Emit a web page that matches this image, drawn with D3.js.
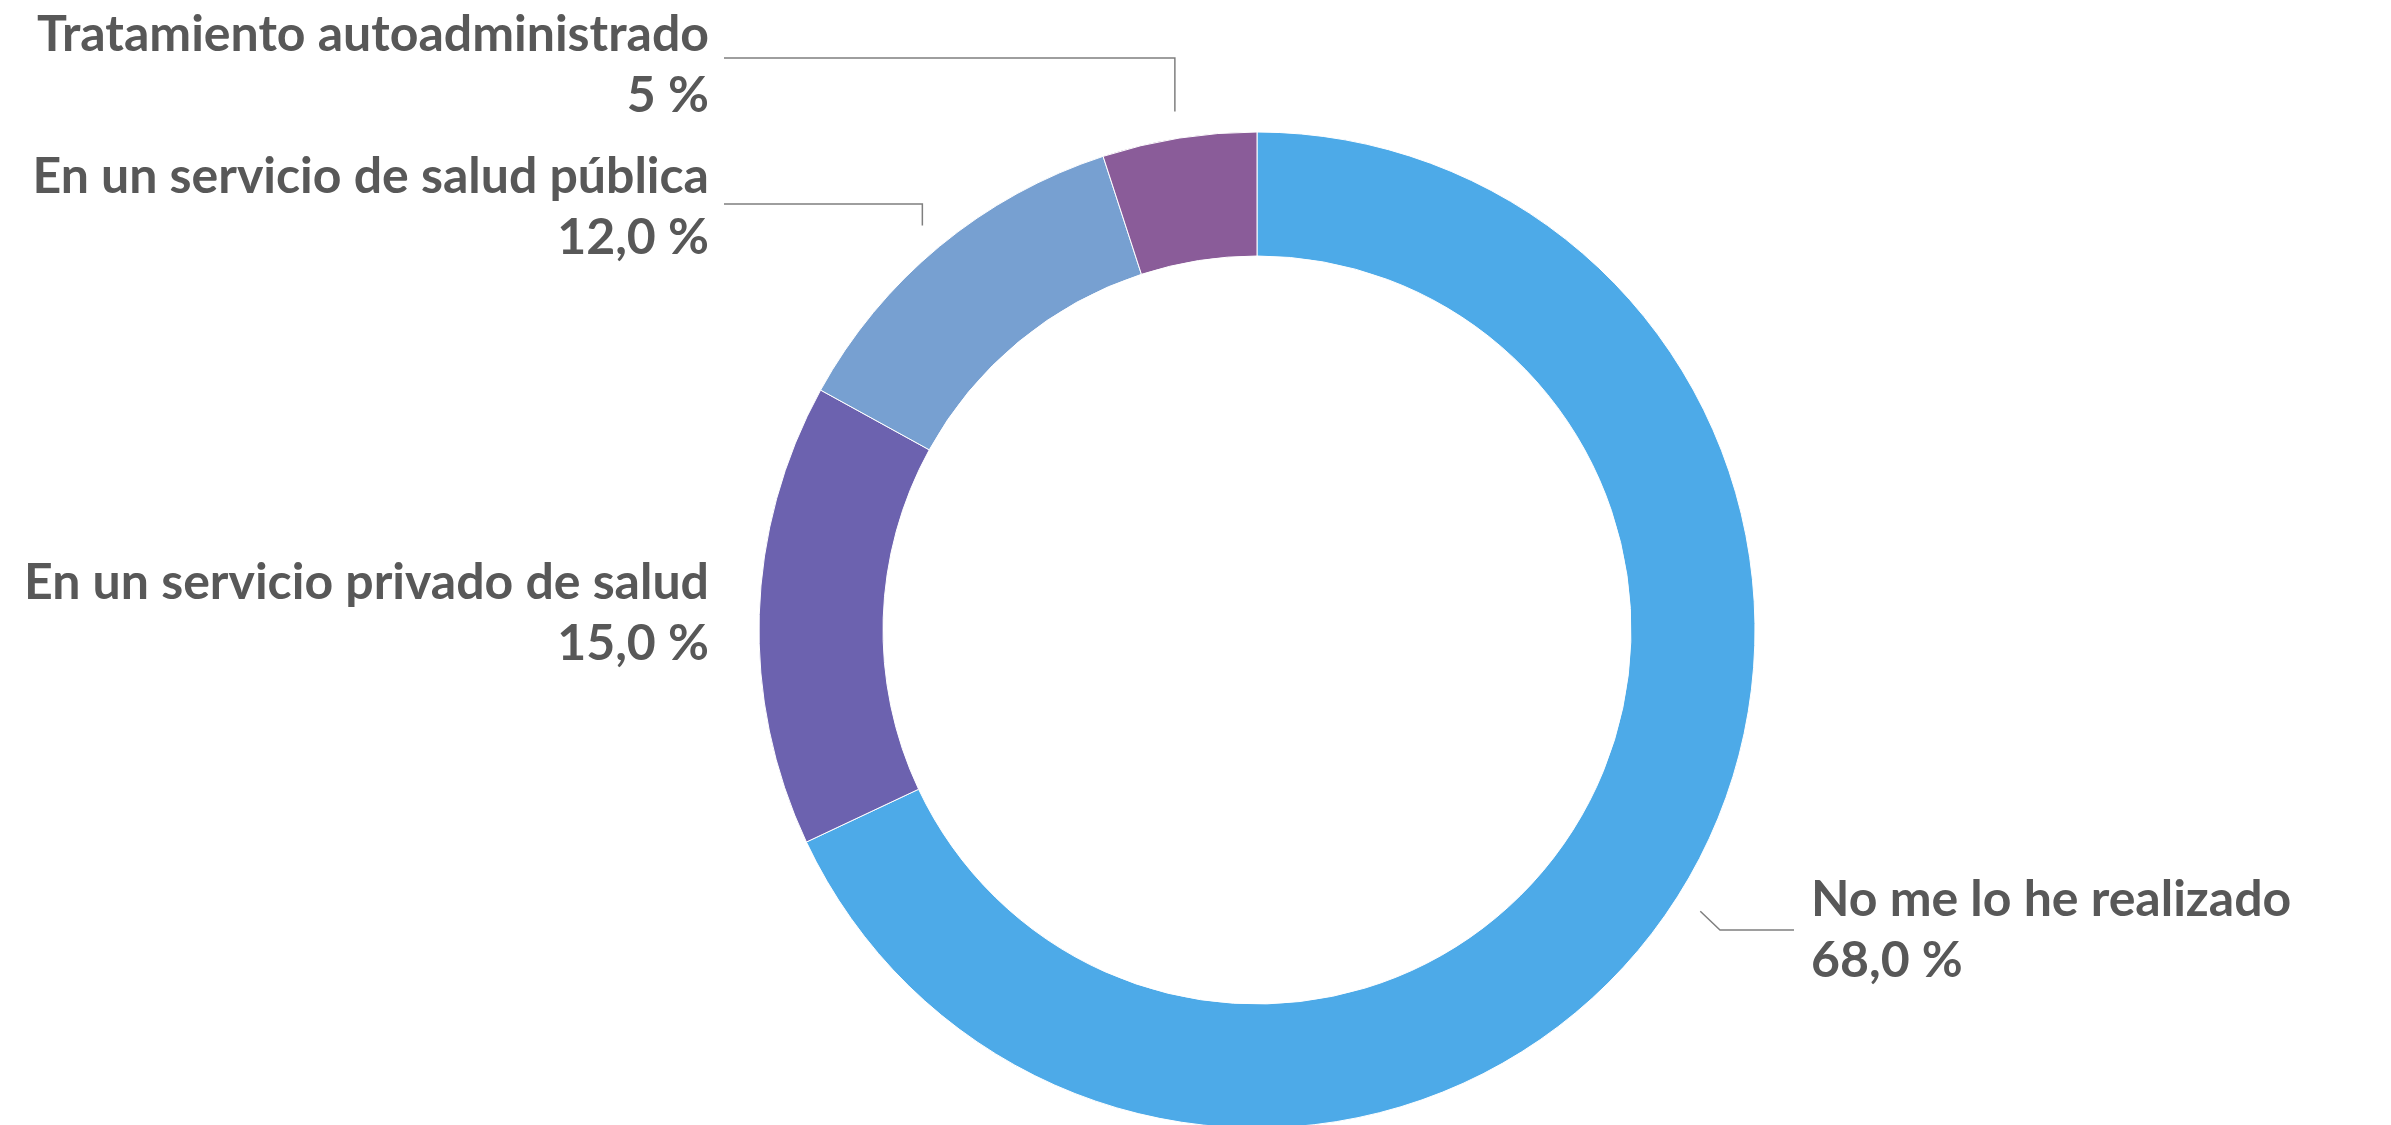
<!DOCTYPE html>
<html>
<head>
<meta charset="utf-8">
<script src="https://cdn.jsdelivr.net/npm/d3@7"></script>
<style>
  html, body { margin: 0; padding: 0; background: #fff; overflow: hidden; }
  text { font-family: Lato, "Open Sans", sans-serif; font-weight: 700; fill: #585858; }
</style>
</head>
<body>
<div id="chart"></div>
<script>
// data
const categories = [
  "No me lo he realizado",
  "En un servicio privado de salud",
  "En un servicio de salud pública",
  "Tratamiento autoadministrado",
];
const values = [68, 15, 12, 5];
const valueLabels = ["68,0 %", "15,0 %", "12,0 %", "5 %"];
const colors = ["#4DAAE8", "#6C62AF", "#77A0D1", "#8A5C99"];

// size of the page
const width = 2391, height = 1125;
const cx = 1257, cy = 630;
const outerR = 498, innerR = 374, leaderR = 525;

// where the labels sit (like the excel chart)
const labelLayout = [
  { x: 1811, y: 916, anchor: "start", elbow: [1720, 930], end: 1794 },
  { x: 709, y: 599, anchor: "end", elbow: null },
  { x: 709, y: 193, anchor: "end", elbowY: 204, end: 724 },
  { x: 709, y: 51, anchor: "end", elbowY: 58, end: 724 },
];
const lineGap = 61;

const svg = d3
  .select("#chart")
  .append("svg")
  .attr("width", width)
  .attr("height", height);

const g = svg.append("g").attr("transform", "translate(" + cx + "," + cy + ")");

const pie = d3.pie().sort(null).value((d) => d);
const arcs = pie(values);

const arc = d3.arc().innerRadius(innerR).outerRadius(outerR);

g.selectAll("path.slice")
  .data(arcs)
  .enter()
  .append("path")
  .attr("class", "slice")
  .attr("d", arc)
  .attr("fill", (d, i) => colors[i])
  .attr("stroke", "#fff")
  .attr("stroke-width", 1);

// leader lines
const leaderArc = d3.arc().innerRadius(leaderR).outerRadius(leaderR);

arcs.forEach((d, i) => {
  const lay = labelLayout[i];
  const p = leaderArc.centroid(d);
  const sx = p[0] + cx, sy = p[1] + cy;
  let pts = null;
  if (lay.elbow) {
    pts = [[sx, sy], lay.elbow, [lay.end, lay.elbow[1]]];
  } else if (lay.elbowY !== undefined) {
    pts = [[sx, sy], [sx, lay.elbowY], [lay.end, lay.elbowY]];
  }
  if (pts) {
    svg.append("path")
      .attr("d", d3.line()(pts))
      .attr("fill", "none")
      .attr("stroke", "#7F7F7F")
      .attr("stroke-width", 1.5);
  }
});

// labels
categories.forEach((c, i) => {
  const lay = labelLayout[i];
  const t = svg.append("text")
    .attr("text-anchor", lay.anchor)
    .style("font-size", "50px");
  t.append("tspan").attr("x", lay.x).attr("y", lay.y).text(c);
  t.append("tspan").attr("x", lay.x).attr("y", lay.y + lineGap).text(valueLabels[i]);
});
</script>
</body>
</html>
